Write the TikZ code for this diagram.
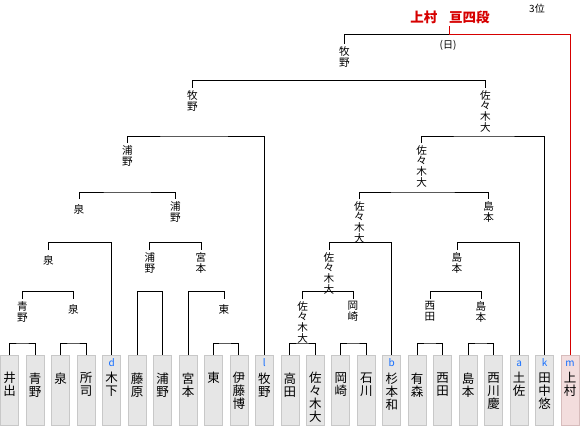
\documentclass[tikz,border=0pt]{standalone}
\usepackage{fontspec}
\setmainfont{Noto Sans CJK JP}
\usetikzlibrary{positioning}
\definecolor{boxfill}{RGB}{230,230,230}
\definecolor{boxline}{RGB}{200,200,200}
\definecolor{pinkfill}{RGB}{243,221,221}
\definecolor{pinkline}{RGB}{215,188,188}
\definecolor{winred}{RGB}{214,0,0}
\definecolor{seedblue}{RGB}{20,110,255}
\begin{document}
\begin{tikzpicture}[x=1pt,y=-1pt,line width=1pt,
	pbox/.style={draw=boxline,fill=boxfill,line width=0.8pt,minimum width=18pt,minimum height=69.5pt,inner sep=0pt,anchor=north},
	nm/.style={font=\fontsize{12.5}{13}\selectfont,align=center,inner sep=0pt},
	lbl/.style={font=\fontsize{10.6}{10.6}\selectfont,align=center,anchor=north,inner sep=2pt},
	lbl1/.style={lbl,inner ysep=5pt},
	seedl/.style={font=\fontsize{10}{10}\selectfont,text=seedblue,inner sep=0pt,anchor=base}]
	\useasboundingbox (0,0) rectangle (580,425);
	% players
	\node[pbox] (p1) at (9.7,355) {};
	\node[pbox] (p2) at (35.2,355) {};
	\node[pbox] (p3) at (60.6,355) {};
	\node[pbox] (p4) at (86.1,355) {};
	\node[pbox] (p5) at (111.6,355) {};
	\node[pbox] (p6) at (137.1,355) {};
	\node[pbox] (p7) at (162.5,355) {};
	\node[pbox] (p8) at (188.0,355) {};
	\node[pbox] (p9) at (213.5,355) {};
	\node[pbox] (p10) at (238.9,355) {};
	\node[pbox] (p11) at (264.4,355) {};
	\node[pbox] (p12) at (289.9,355) {};
	\node[pbox] (p13) at (315.3,355) {};
	\node[pbox] (p14) at (340.8,355) {};
	\node[pbox] (p15) at (366.3,355) {};
	\node[pbox] (p16) at (391.8,355) {};
	\node[pbox] (p17) at (417.2,355) {};
	\node[pbox] (p18) at (442.7,355) {};
	\node[pbox] (p19) at (468.2,355) {};
	\node[pbox] (p20) at (493.6,355) {};
	\node[pbox] (p21) at (519.1,355) {};
	\node[pbox] (p22) at (544.6,355) {};
	\node[pbox,draw=pinkline,fill=pinkfill] (p23) at (570.0,355) {};
	\node[nm,below=17pt of p1.north] (n1) {井\\出};
	\node[nm,below=17pt of p2.north] (n2) {青\\野};
	\node[nm,below=17pt of p3.north] (n3) {泉};
	\node[nm,below=17pt of p4.north] (n4) {所\\司};
	\node[nm,below=17pt of p5.north] (n5) {木\\下};
	\node[nm,below=17pt of p6.north] (n6) {藤\\原};
	\node[nm,below=17pt of p7.north] (n7) {浦\\野};
	\node[nm,below=17pt of p8.north] (n8) {宮\\本};
	\node[nm,below=17pt of p9.north] (n9) {東};
	\node[nm,below=17pt of p10.north] (n10) {伊\\藤\\博};
	\node[nm,below=17pt of p11.north] (n11) {牧\\野};
	\node[nm,below=17pt of p12.north] (n12) {高\\田};
	\node[nm,below=17pt of p13.north] (n13) {佐\\々\\木\\大};
	\node[nm,below=17pt of p14.north] (n14) {岡\\崎};
	\node[nm,below=17pt of p15.north] (n15) {石\\川};
	\node[nm,below=17pt of p16.north] (n16) {杉\\本\\和};
	\node[nm,below=17pt of p17.north] (n17) {有\\森};
	\node[nm,below=17pt of p18.north] (n18) {西\\田};
	\node[nm,below=17pt of p19.north] (n19) {島\\本};
	\node[nm,below=17pt of p20.north] (n20) {西\\川\\慶};
	\node[nm,below=17pt of p21.north] (n21) {土\\佐};
	\node[nm,below=17pt of p22.north] (n22) {田\\中\\悠};
	\node[nm,below=17pt of p23.north] (n23) {上\\村};
	\node[seedl] (s5) at (111.6,366) {d};
	\node[seedl] (s11) at (264.4,366) {l};
	\node[seedl] (s16) at (391.8,366) {b};
	\node[seedl] (s21) at (519.1,366) {a};
	\node[seedl] (s22) at (544.6,366) {k};
	\node[seedl] (s23) at (570.0,366) {m};
	% winners
	\node[lbl] (g1) at (22.5,299) {青\\野};
	\node[lbl1] (g2) at (73.4,299) {泉};
	\node[lbl1] (g3) at (224,299) {東};
	\node[lbl] (g4) at (302.6,299) {佐\\々\\木\\大};
	\node[lbl] (g5) at (353,299) {岡\\崎};
	\node[lbl] (g6) at (430,299) {西\\田};
	\node[lbl] (g7) at (481,299) {島\\本};
	\node[lbl1] (f1) at (48.5,250) {泉};
	\node[lbl] (f2) at (149.8,250) {浦\\野};
	\node[lbl] (f3) at (201,250) {宮\\本};
	\node[lbl] (f4) at (329,250) {佐\\々\\木\\大};
	\node[lbl] (f5) at (457,250) {島\\本};
	\node[lbl1] (e1) at (79,199) {泉};
	\node[lbl] (e2) at (175.5,199) {浦\\野};
	\node[lbl] (e3) at (359.3,199) {佐\\々\\木\\大};
	\node[lbl] (e4) at (488.7,199) {島\\本};
	\node[lbl] (d1) at (127.3,143) {浦\\野};
	\node[lbl] (d2) at (421.7,143) {佐\\々\\木\\大};
	\node[lbl] (c1) at (192.3,88) {牧\\野};
	\node[lbl] (c2) at (485.3,88) {佐\\々\\木\\大};
	\node[lbl] (b1) at (344.3,44) {牧\\野};
	\node[font=\fontsize{13.5}{13.5}\selectfont\bfseries,text=winred,inner sep=2pt] (champ) at (450,17.5) {上村\hspace{12pt}亘四段};
	\node[font=\fontsize{10}{10}\selectfont,inner sep=0pt] (day) at (448,45) {(日)};
	\node[font=\fontsize{10}{10}\selectfont,inner sep=0pt] (rank) at (537,9) {3位};
	% bracket joints
	\coordinate (jg1) at (22.5,343);
	\coordinate (jg2) at (73.4,343);
	\coordinate (jg3) at (224,343);
	\coordinate (jg4) at (302.6,343);
	\coordinate (jg5) at (353,343);
	\coordinate (jg6) at (430,343);
	\coordinate (jg7) at (481,343);
	\coordinate (jf1) at (48.5,291.7);
	\coordinate (jf2) at (149.8,291.7);
	\coordinate (jf3) at (201,291.7);
	\coordinate (jf4) at (329,291.7);
	\coordinate (jf5) at (457,291.7);
	\coordinate (je1) at (79,242.7);
	\coordinate (je2) at (175.5,242.7);
	\coordinate (je3) at (359.3,242.7);
	\coordinate (je4) at (488.7,242.7);
	\coordinate (jd1) at (127.3,192);
	\coordinate (jd2) at (421.7,192);
	\coordinate (jc1) at (192.3,136);
	\coordinate (jc2) at (485.3,136);
	\coordinate (jb1) at (344.3,80.7);
	\coordinate (ja) at (449.3,34.3);
	% brackets
	\draw (p1.north) |- (jg1) -| (p2.north);
	\draw (p3.north) |- (jg2) -| (p4.north);
	\draw (p9.north) |- (jg3) -| (p10.north);
	\draw (p12.north) |- (jg4) -| (p13.north);
	\draw (p14.north) |- (jg5) -| (p15.north);
	\draw (p17.north) |- (jg6) -| (p18.north);
	\draw (p19.north) |- (jg7) -| (p20.north);
	\draw (g1.north) |- (jf1) -| (g2.north);
	\draw (p6.north) |- (jf2) -| (p7.north);
	\draw (p8.north) |- (jf3) -| (g3.north);
	\draw (g4.north) |- (jf4) -| (g5.north);
	\draw (g6.north) |- (jf5) -| (g7.north);
	\draw (f1.north) |- (je1) -| (p5.north);
	\draw (f2.north) |- (je2) -| (f3.north);
	\draw (f4.north) |- (je3) -| (p16.north);
	\draw (f5.north) |- (je4) -| (p21.north);
	\draw (e1.north) |- (jd1) -| (e2.north);
	\draw (e3.north) |- (jd2) -| (e4.north);
	\draw (d1.north) |- (jc1) -| (p11.north);
	\draw (d2.north) |- (jc2) -| (p22.north);
	\draw (c1.north) |- (jb1) -| (c2.north);
	\draw (b1.north) |- (ja);
	\draw[winred] (p23.north) |- (ja) -- (ja |- champ.south);
\end{tikzpicture}
\end{document}
